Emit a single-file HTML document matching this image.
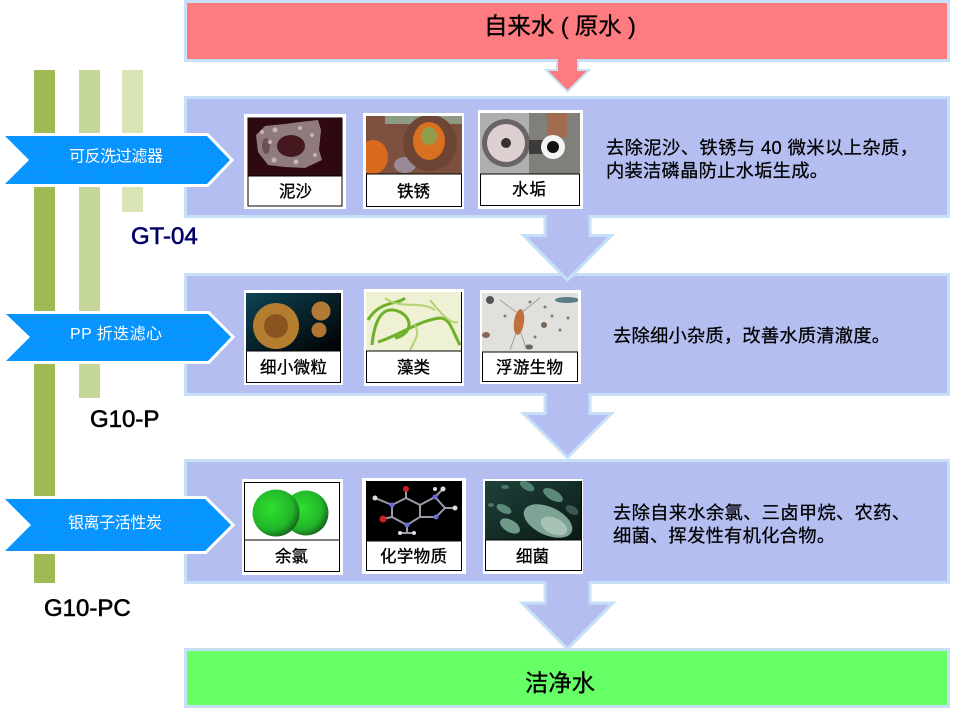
<!DOCTYPE html>
<html lang="zh">
<head>
<meta charset="utf-8">
<title>Filtration diagram</title>
<style>
html,body{margin:0;padding:0;background:#fff;width:960px;height:720px;overflow:hidden}
svg{display:block}
text{font-family:"Liberation Sans","Noto Sans CJK SC",sans-serif}
.lb{font-size:16.500px;fill:#000;stroke:#000;stroke-width:.35px}
.d{font-size:18.300px;fill:#000;stroke:#000;stroke-width:.25px}
.w{font-size:16px;fill:#fff}
.m{font-size:24px;stroke-width:.6px}
.t{font-size:23.500px;fill:#000;stroke:#000;stroke-width:.3px}
</style>
</head>
<body>
<svg width="960" height="720" viewBox="0 0 960 720" xmlns="http://www.w3.org/2000/svg">
<defs>
<pattern id="dots" width="6" height="6" patternUnits="userSpaceOnUse"><rect width="6" height="6" fill="#0596ff"/><rect x="1" y="1" width="1" height="1" fill="#2a70e6"/><rect x="4" y="4" width="1" height="1" fill="#2a70e6"/></pattern>
<radialGradient id="g1" cx=".4" cy=".4" r=".65"><stop offset="0" stop-color="#2ee02e"/><stop offset=".7" stop-color="#22b52a"/><stop offset="1" stop-color="#145f1c"/></radialGradient>
<linearGradient id="tealbg" x1="0" y1="0" x2="1" y2="1"><stop offset="0" stop-color="#0e4454"/><stop offset="1" stop-color="#000"/></linearGradient>
<linearGradient id="bac" x1="0" y1="0" x2="1" y2="1"><stop offset="0" stop-color="#1f423a"/><stop offset="1" stop-color="#0a1816"/></linearGradient>
<clipPath id="c1"><rect x="248" y="118" width="94" height="58"/></clipPath>
<clipPath id="c2"><rect x="366" y="116" width="96" height="58"/></clipPath>
<clipPath id="c3"><rect x="480" y="113" width="100" height="61"/></clipPath>
<clipPath id="c4"><rect x="246" y="293" width="94" height="58"/></clipPath>
<clipPath id="c5"><rect x="366" y="292" width="95" height="59"/></clipPath>
<clipPath id="c6"><rect x="482" y="293" width="96" height="59"/></clipPath>
<clipPath id="c8"><rect x="366" y="481" width="96" height="60"/></clipPath>
<clipPath id="c9"><rect x="485" y="481" width="96" height="59"/></clipPath>
</defs>

<!-- side bars -->
<rect x="34" y="70" width="21" height="513" fill="#9fb953"/>
<rect x="79" y="70" width="21" height="328" fill="#c6d79a"/>
<rect x="122" y="70" width="21" height="142" fill="#d8e3b6"/>

<!-- panels -->
<rect x="185.500" y="1.500" width="763" height="59" fill="#fe7b80" stroke="#c6e1f7" stroke-width="3"/>
<rect x="185.500" y="97.500" width="763" height="119" fill="#b4bef0" stroke="#c6e1f7" stroke-width="3"/>
<rect x="185.500" y="274.500" width="763" height="120" fill="#b4bef0" stroke="#c6e1f7" stroke-width="3"/>
<rect x="185.500" y="460.500" width="763" height="122" fill="#b4bef0" stroke="#c6e1f7" stroke-width="3"/>
<rect x="185.500" y="649.500" width="763" height="57" fill="#66ff66" stroke="#c6e1f7" stroke-width="3"/>

<!-- arrows -->
<g stroke="#c6e1f7" stroke-width="2" stroke-linejoin="miter">
<polygon points="557,60 578,60 578,70 589,70 567.500,91.500 546,70 557,70" fill="#fe7b80"/>
</g>
<g stroke="#c6e1f7" stroke-width="3" stroke-linejoin="miter">
<polygon points="545,216.500 590,216.500 590,235.500 611.500,235.500 567.500,280 523.500,235.500 545,235.500" fill="#b4bef0"/>
<polygon points="545,394.500 590,394.500 590,413.500 611.500,413.500 567.500,457.500 523.500,413.500 545,413.500" fill="#b4bef0"/>
<polygon points="545,582.500 590,582.500 590,603 613,603 567.500,649 522,603 545,603" fill="#b4bef0"/>
</g>
<rect x="558" y="58" width="19" height="5" fill="#fe7b80"/>
<rect x="546.500" y="213" width="42" height="8" fill="#b4bef0"/>
<rect x="546.500" y="391" width="42" height="8" fill="#b4bef0"/>
<rect x="546.500" y="579" width="42" height="8" fill="#b4bef0"/>

<!-- chevrons -->
<g stroke="#fff" stroke-width="6" paint-order="stroke" fill="url(#dots)" stroke-linejoin="miter">
<polygon points="5,136 207,136 230,160 207,184 5,184 29,160"/>
<polygon points="6,314 208,314 231,337 208,361 6,361 30,337"/>
<polygon points="5,499 205,499 231,525 205,551 5,551 31,525"/>
</g>
<text class="w" x="69" y="161.500" textLength="94">可反洗过滤器</text>
<text class="w" x="70" y="339" textLength="92">PP  折迭滤心</text>
<text class="w" x="68" y="528" textLength="94">银离子活性炭</text>

<!-- model labels -->
<text class="m" x="131" y="244" fill="#000066" stroke="#000066">GT-04</text>
<text class="m" x="90" y="427" fill="#000" stroke="#000">G10-P</text>
<text class="m" x="44" y="616" fill="#000" stroke="#000">G10-PC</text>

<!-- title texts -->
<text class="t" x="484" y="34" textLength="152">自来水 ( 原水 )</text>
<text class="t" x="525" y="691" textLength="70">洁净水</text>

<!-- cards row 1 -->
<rect x="244" y="114" width="102" height="95" fill="#fff"/>
<rect x="248" y="118" width="94" height="88" fill="#fff" stroke="#000" stroke-width="1"/>
<g clip-path="url(#c1)"><rect x="248" y="118" width="94" height="58" fill="#2e0a10"/>
<polygon points="256,135 265,126 285,124 300,122 318,120 321,130 319,150 322,160 305,168 285,167 268,165 258,152" fill="#8f7b7e"/>
<ellipse cx="291" cy="146" rx="14" ry="11" fill="#45181f"/><ellipse cx="266" cy="146" rx="4" ry="8" fill="#6c5054"/>
<g fill="#c4b5b5"><circle cx="262" cy="132" r="2"/><circle cx="275" cy="130" r="2.500"/><circle cx="300" cy="128" r="2"/><circle cx="312" cy="135" r="2"/><circle cx="315" cy="155" r="2"/><circle cx="296" cy="162" r="2.500"/><circle cx="274" cy="160" r="2.500"/><circle cx="270" cy="142" r="2"/></g></g>
<line x1="248" y1="176" x2="342" y2="176" stroke="#000"/>
<text class="lb" x="279" y="197" textLength="33">泥沙</text>

<rect x="363" y="113" width="101" height="96" fill="#fff"/>
<rect x="366.500" y="116.500" width="95" height="90" fill="#fff" stroke="#000"/>
<g clip-path="url(#c2)"><rect x="366" y="116" width="96" height="58" fill="#7d5040"/>
<rect x="385" y="116" width="77" height="8" fill="#8d9a84"/>
<ellipse cx="373" cy="157" rx="15" ry="17" fill="#d9691f"/>
<ellipse cx="405" cy="165" rx="11" ry="8" fill="#9a8a98"/>
<ellipse cx="430" cy="143" rx="27" ry="28" fill="#6e4434"/>
<ellipse cx="429" cy="141" rx="16" ry="19" fill="#d9701f"/>
<ellipse cx="429" cy="136" rx="8" ry="9" fill="#8f9c4c"/></g>
<line x1="366" y1="174" x2="462" y2="174" stroke="#000"/>
<text class="lb" x="397" y="197" textLength="33">铁锈</text>

<rect x="478" y="110" width="105" height="99" fill="#fff"/>
<rect x="480.500" y="113.500" width="99" height="92" fill="#fff" stroke="#000"/>
<g clip-path="url(#c3)"><rect x="480" y="113" width="49" height="61" fill="#b0afb0"/><rect x="529" y="113" width="51" height="61" fill="#807f7a"/>
<circle cx="506" cy="143" r="24" fill="#6a6466"/><circle cx="506" cy="143" r="19" fill="#dcd0d0"/><circle cx="506" cy="143" r="5" fill="#3a3030"/>
<rect x="547" y="113" width="20" height="24" fill="#a16c4f"/><rect x="529" y="140" width="20" height="14" fill="#3d3c3a"/>
<circle cx="553" cy="147" r="12" fill="#f4f4f4"/><circle cx="553" cy="147" r="6" fill="#111"/></g>
<line x1="480" y1="174" x2="580" y2="174" stroke="#000"/>
<text class="lb" x="512" y="195" textLength="34">水垢</text>

<!-- cards row 2 -->
<rect x="244" y="290" width="99" height="95" fill="#fff"/>
<rect x="246.500" y="293.500" width="94" height="89" fill="#fff" stroke="#000"/>
<g clip-path="url(#c4)"><rect x="246" y="293" width="94" height="58" fill="url(#tealbg)"/>
<circle cx="276" cy="326" r="23" fill="#b57d30"/><circle cx="276" cy="326" r="12" fill="#8a5420"/>
<circle cx="321" cy="311" r="9.500" fill="#b27a35"/><circle cx="319" cy="330" r="7.500" fill="#ae7632"/></g>
<line x1="246" y1="351" x2="340" y2="351" stroke="#000"/>
<text class="lb" x="260" y="373" textLength="67">细小微粒</text>

<rect x="364" y="289" width="100" height="97" fill="#fff"/>
<rect x="366.500" y="292.500" width="95" height="90" fill="#fff" stroke="#000"/>
<g clip-path="url(#c5)"><rect x="366" y="292" width="95" height="59" fill="#eef1d4"/>
<g fill="none" stroke="#6fb028" stroke-width="3"><path d="M372,345 C375,315 385,305 400,312 C415,320 410,335 395,338"/><path d="M378,342 C400,335 420,320 440,318 C450,318 452,330 460,345"/><path d="M368,320 C380,300 398,305 405,298"/></g>
<g fill="none" stroke="#b4d270" stroke-width="2"><path d="M385,298 C400,310 420,300 435,310"/><path d="M410,350 C415,340 420,335 415,325"/><path d="M430,300 C440,312 450,325 458,322"/></g></g>
<line x1="366" y1="351" x2="461" y2="351" stroke="#000"/>
<text class="lb" x="397" y="373" textLength="33">藻类</text>

<rect x="480" y="290" width="101" height="94" fill="#fff"/>
<rect x="482.500" y="293.500" width="95" height="88" fill="#fff" stroke="#000"/>
<g clip-path="url(#c6)"><rect x="482" y="293" width="96" height="59" fill="#e0e0dc"/>
<ellipse cx="519" cy="322" rx="5" ry="13" fill="#c0703a" transform="rotate(8 519 322)"/>
<ellipse cx="567" cy="300" rx="12" ry="3" fill="#5b7c86"/>
<circle cx="490" cy="300" r="4" fill="#555"/><circle cx="544" cy="325" r="3" fill="#7a6a55"/><ellipse cx="529" cy="347" rx="4" ry="2.500" fill="#666"/>
<ellipse cx="486" cy="335" rx="4" ry="3" fill="#86645a"/>
<g fill="#8a7c6c"><circle cx="530" cy="302" r="1.500"/><circle cx="545" cy="307" r="1.500"/><circle cx="552" cy="316" r="1.500"/><circle cx="560" cy="330" r="1.500"/><circle cx="505" cy="316" r="1.500"/><circle cx="535" cy="337" r="1.500"/><circle cx="568" cy="318" r="1.500"/></g>
<g stroke="#a0a09a" fill="none"><path d="M516,312 L500,300"/><path d="M522,312 L540,298"/><path d="M516,333 L510,350"/><path d="M521,333 L526,348"/></g></g>
<line x1="482" y1="352" x2="578" y2="352" stroke="#000"/>
<text class="lb" x="496" y="373" textLength="67">浮游生物</text>

<!-- cards row 3 -->
<rect x="242" y="479" width="101" height="96" fill="#fff"/>
<rect x="244.500" y="482.500" width="95" height="89" fill="#fff" stroke="#000"/>
<circle cx="306" cy="513" r="22.500" fill="url(#g1)"/>
<circle cx="276" cy="513" r="23.500" fill="url(#g1)"/>
<line x1="244" y1="540" x2="340" y2="540" stroke="#000"/>
<text class="lb" x="275" y="562" textLength="33">余氯</text>

<rect x="362" y="478" width="104" height="96" fill="#fff"/>
<rect x="366.500" y="481.500" width="95" height="89" fill="#fff" stroke="#000"/>
<g clip-path="url(#c8)"><rect x="366" y="481" width="96" height="60" fill="#000"/>
<g stroke="#9a9aa8" stroke-width="2" fill="none"><path d="M392,505 L406,498 L420,505 L420,517 L407,525 L392,517 Z"/><path d="M406,498 L406,489"/><path d="M392,505 L375,498"/><path d="M392,517 L383,519"/><path d="M407,525 L407,533"/><path d="M420,505 L435,497 L445,508 L436,517 L420,517"/><path d="M435,497 L443,489"/><path d="M445,508 L455,508"/><path d="M400,533 L414,533"/></g>
<g fill="#cc2222"><circle cx="406" cy="489" r="3"/><circle cx="383" cy="519" r="3.500"/></g>
<g fill="#6a6adf"><circle cx="392" cy="505" r="2.500"/><circle cx="407" cy="525" r="2.500"/><circle cx="435" cy="497" r="2.500"/><circle cx="436" cy="517" r="2.500"/></g>
<g fill="#ddd"><circle cx="375" cy="498" r="2.500"/><circle cx="443" cy="489" r="2.500"/><circle cx="435" cy="489" r="2"/><circle cx="455" cy="508" r="2.500"/><circle cx="400" cy="533" r="2"/><circle cx="414" cy="533" r="2"/></g></g>
<line x1="366" y1="541" x2="462" y2="541" stroke="#000"/>
<text class="lb" x="380" y="562" textLength="67">化学物质</text>

<rect x="483" y="479" width="100" height="95" fill="#fff"/>
<rect x="485.500" y="481.500" width="96" height="89" fill="#fff" stroke="#000"/>
<g clip-path="url(#c9)"><rect x="485" y="481" width="96" height="59" fill="url(#bac)"/>
<ellipse cx="548" cy="521" rx="26" ry="14" fill="#7fa495" transform="rotate(25 548 521)"/>
<ellipse cx="554" cy="526" rx="14" ry="8" fill="#a8c2b6" transform="rotate(25 554 526)"/>
<ellipse cx="553" cy="495" rx="11" ry="5" fill="#5c8a78" transform="rotate(30 553 495)"/>
<ellipse cx="527" cy="486" rx="8" ry="4" fill="#4f8270" transform="rotate(30 527 486)"/>
<ellipse cx="504" cy="509" rx="8" ry="4" fill="#5b8a78" transform="rotate(25 504 509)"/>
<ellipse cx="510" cy="526" rx="11" ry="6" fill="#6f9a88" transform="rotate(30 510 526)"/>
<ellipse cx="572" cy="510" rx="7" ry="4" fill="#3c5850" transform="rotate(30 572 510)"/>
<ellipse cx="505" cy="487" rx="4" ry="2" fill="#4a7868"/><ellipse cx="491" cy="505" rx="3" ry="2" fill="#4a7868"/></g>
<line x1="485" y1="540" x2="581" y2="540" stroke="#000"/>
<text class="lb" x="516" y="562" textLength="33">细菌</text>

<!-- descriptions -->
<text class="d" x="606" y="154" textLength="312">去除泥沙、铁锈与 40 微米以上杂质，</text>
<text class="d" x="606" y="177" textLength="222">内装洁磷晶防止水垢生成。</text>
<text class="d" x="613" y="342" textLength="277">去除细小杂质，改善水质清澈度。</text>
<text class="d" x="613" y="519" textLength="297">去除自来水余氯、三卤甲烷、农药、</text>
<text class="d" x="613" y="542" textLength="222">细菌、挥发性有机化合物。</text>
</svg>
</body>
</html>
